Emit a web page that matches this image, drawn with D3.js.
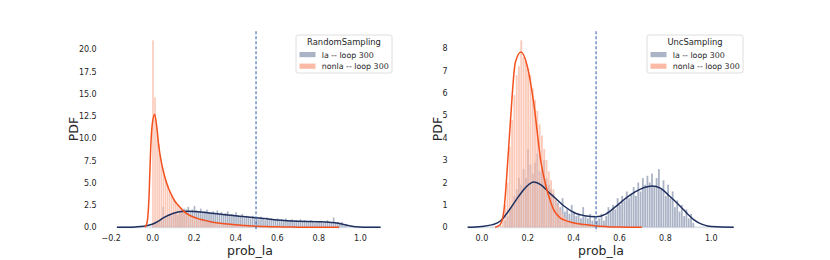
<!DOCTYPE html>
<html>
<head>
<meta charset="utf-8">
<script src="https://cdn.jsdelivr.net/npm/d3@7"></script>
<style>
  body { margin: 0; background: #fff; }
  text { font-family: "DejaVu Sans", sans-serif; fill: #262626; }
</style>
</head>
<body>
<svg id="board" width="830" height="260"></svg>
<script>
// histogram bins are 0.01 wide, each array starts at the given left edge
const binWidth = 0.01;

// RandomSampling panel
const randLaStart = 0.00;
const randLa = [
  0.3, 0.5, 0.6, 0.8, 1.0, 2.3, 1.1, 1.2, 1.4, 1.3,
  1.5, 1.6, 1.4, 1.8, 1.9, 2.1, 2.0, 2.3, 1.8, 2.0,
  2.4, 1.9, 1.7, 2.1, 1.6, 1.8, 2.0, 1.7, 1.5, 1.8,
  1.6, 1.9, 1.5, 1.7, 1.4, 1.6, 1.8, 1.3, 1.5, 1.4,
  1.7, 1.3, 1.2, 1.5, 1.1, 1.3, 1.2, 1.0, 1.3, 1.1,
  1.0, 0.9, 1.2, 1.0, 0.8, 1.1, 0.9, 1.0, 0.8, 0.9,
  1.0, 0.7, 0.9, 0.8, 1.0, 0.7, 0.8, 0.9, 0.6, 0.8,
  0.7, 0.9, 0.6, 0.8, 0.7, 0.6, 0.8, 0.7, 0.5, 0.7,
  0.6, 0.7, 0.5, 0.6, 0.8, 0.5, 0.6, 1.1, 0.5, 0.6,
  0.5, 0.6, 0.4, 0.3
];
const randNonlaStart = 0.00;
const randNonla = [
  21.0, 14.6, 11.2, 9.3, 7.6, 6.4, 5.6, 4.8, 4.1, 3.6,
  3.2, 2.9, 2.5, 2.2, 2.0, 1.8, 1.6, 1.45, 1.3, 1.15,
  1.05, 0.95, 0.85, 0.8, 0.72, 0.65, 0.6, 0.55, 0.5, 0.45,
  0.42, 0.4, 0.36, 0.33, 0.3, 0.28, 0.26, 0.24, 0.22, 0.2,
  0.19, 0.17, 0.16, 0.15, 0.14, 0.12, 0.11, 0.1, 0.09, 0.08,
  0.07, 0.06, 0.05, 0.05, 0.04, 0.03, 0.03, 0.02, 0.02, 0.01
];
const randLaKdeX = [-0.17, -0.12, -0.08, -0.04, 0, 0.03, 0.06, 0.1, 0.14, 0.18, 0.22, 0.26, 0.3, 0.35, 0.4, 0.45, 0.5, 0.55, 0.6, 0.65, 0.7, 0.75, 0.8, 0.85, 0.88, 0.92, 0.95, 0.98, 1.02, 1.1];
const randLaKdeY = [0, 0.01, 0.04, 0.12, 0.35, 0.7, 1.15, 1.55, 1.78, 1.8, 1.75, 1.65, 1.55, 1.42, 1.3, 1.18, 1.07, 0.95, 0.82, 0.74, 0.69, 0.66, 0.63, 0.58, 0.5, 0.33, 0.18, 0.06, 0.01, 0];
const randNonlaKdeX = [-0.035, -0.025, -0.015, -0.008, 0, 0.012, 0.022, 0.032, 0.045, 0.064, 0.08, 0.096, 0.11, 0.128, 0.15, 0.176, 0.2, 0.224, 0.26, 0.3, 0.35, 0.4, 0.45, 0.5, 0.55, 0.6, 0.7, 0.8, 0.9];
const randNonlaKdeY = [0, 0.5, 3.5, 8.4, 11.5, 12.7, 11.3, 9.1, 7.2, 5.4, 4.3, 3.5, 2.9, 2.4, 1.85, 1.4, 1.15, 0.95, 0.75, 0.55, 0.4, 0.28, 0.2, 0.13, 0.09, 0.05, 0.02, 0.005, 0];

// UncSampling panel
const uncLaStart = 0.10;
const uncLa = [
  0.3, 0.5, 0.8, 1.0, 1.4, 1.7, 2.2, 1.9, 2.6, 2.2,
  3.5, 2.8, 2.4, 2.9, 3.3, 2.5, 2.7, 3.0, 2.2, 1.9,
  1.7, 1.5, 1.2, 1.1, 0.9, 1.3, 0.7, 0.8, 0.6, 1.0,
  0.7, 0.5, 0.6, 0.4, 0.9, 0.5, 0.4, 0.6, 0.3, 0.5,
  0.3, 0.4, 0.6, 0.3, 0.5, 0.9, 0.7, 1.0, 0.8, 1.3,
  1.0, 1.4, 1.2, 1.6, 1.3, 1.5, 1.8, 1.4, 2.0, 1.6,
  2.2, 1.9, 2.3, 2.0, 2.4, 1.8, 2.2, 2.6, 1.7, 2.1,
  1.4, 1.9, 1.3, 1.6, 0.9, 1.2, 0.7, 1.0, 0.5, 0.8,
  0.4, 0.6, 0.2
];
const uncNonlaStart = 0.08;
const uncNonla = [
  0.1, 0.4,
  1.0, 2.0, 3.6, 4.8, 5.9, 6.8, 7.2, 8.35, 7.6, 7.4,
  7.1, 6.8, 6.2, 5.7, 5.2, 4.6, 4.1, 3.5, 3.0, 2.5,
  2.1, 1.7, 1.3, 1.0, 0.8, 0.6, 0.45, 0.35, 0.28, 0.22,
  0.18, 0.15, 0.12, 0.1, 0.08, 0.07, 0.06, 0.05, 0.04, 0.03,
  0.03, 0.02, 0.02, 0.01, 0.01
];
const uncLaKdeX = [-0.06, 0.0, 0.05, 0.083, 0.12, 0.16, 0.2, 0.228, 0.26, 0.29, 0.323, 0.36, 0.41, 0.45, 0.5, 0.54, 0.585, 0.63, 0.672, 0.71, 0.745, 0.78, 0.82, 0.869, 0.9, 0.927, 0.96, 0.986, 1.03, 1.1];
const uncLaKdeY = [0, 0.04, 0.12, 0.28, 0.75, 1.35, 1.85, 2.02, 1.9, 1.6, 1.3, 0.95, 0.63, 0.52, 0.47, 0.58, 0.92, 1.3, 1.59, 1.78, 1.85, 1.75, 1.4, 0.92, 0.58, 0.33, 0.14, 0.06, 0.02, 0];
const uncNonlaKdeX = [0.06, 0.08, 0.097, 0.11, 0.127, 0.148, 0.173, 0.2, 0.228, 0.26, 0.28, 0.3, 0.316, 0.34, 0.36, 0.4, 0.45, 0.5, 0.55, 0.6, 0.7];
const uncNonlaKdeY = [0, 0.1, 0.65, 2.2, 4.8, 7.36, 7.83, 7.2, 5.57, 2.9, 1.9, 1.2, 0.77, 0.45, 0.33, 0.2, 0.12, 0.06, 0.03, 0.01, 0];

const randXTicks = [-0.2, 0.0, 0.2, 0.4, 0.6, 0.8, 1.0];
const randYTicks = [0, 2.5, 5, 7.5, 10, 12.5, 15, 17.5, 20];
const uncXTicks = [0.0, 0.2, 0.4, 0.6, 0.8, 1.0];
const uncYTicks = [0, 1, 2, 3, 4, 5, 6, 7, 8];
const threshold = 0.5;
const legendLabels = ["la -- loop 300", "nonla -- loop 300"];

const laLine = "#1f2f5e", laBar = "#abb3c6";
const nonlaLine = "#f4511e", nonlaBar = "#fbbaa5";

const svg = d3.select("#board");
const axTop = 31.2, axBottom = 231.4, axW = 292;

function drawPanel(left, cfg) {
    const x = d3.scaleLinear().domain(cfg.xDomain).range([left, left + axW]);
    const y = d3.scaleLinear().domain(cfg.yDomain).range([axBottom, axTop]);
    const g = svg.append("g");

    // faint baseline under the kde support
    g.append("line")
        .attr("x1", x(cfg.laKdeX[0])).attr("x2", x(cfg.laKdeX[cfg.laKdeX.length - 1]))
        .attr("y1", y(0)).attr("y2", y(0))
        .attr("stroke", "#dfe3ea").attr("stroke-width", 2);

    function bars(values, start, color, opacity) {
        g.append("g").attr("opacity", opacity).selectAll("rect")
            .data(values)
            .enter().append("rect")
            .attr("x", (d, i) => x(start + i * binWidth))
            .attr("width", (d, i) => Math.max(0.5, x(start + (i + 1) * binWidth) - x(start + i * binWidth) - 0.5))
            .attr("y", d => y(d))
            .attr("height", d => y(0) - y(d))
            .attr("fill", color);
    }
    bars(cfg.la, cfg.laStart, laBar, 1);
    bars(cfg.nonla, cfg.nonlaStart, nonlaBar, 0.78);

    const line = d3.line().x(d => x(d[0])).y(d => y(d[1])).curve(d3.curveMonotoneX);
    g.append("path")
        .datum(d3.zip(cfg.laKdeX, cfg.laKdeY))
        .attr("d", line).attr("fill", "none")
        .attr("stroke", laLine).attr("stroke-width", 1.5);
    g.append("path")
        .datum(d3.zip(cfg.nonlaKdeX, cfg.nonlaKdeY))
        .attr("d", line).attr("fill", "none")
        .attr("stroke", nonlaLine).attr("stroke-width", 1.5);

    g.append("line")
        .attr("x1", x(threshold)).attr("x2", x(threshold))
        .attr("y1", axTop).attr("y2", axBottom)
        .attr("stroke", "#3f68b0").attr("stroke-width", 1.1)
        .attr("stroke-dasharray", "3,2");

    // axes, no spines or tick marks (seaborn white style)
    const xAxis = g.append("g")
        .attr("transform", `translate(0,${axBottom})`)
        .call(d3.axisBottom(x).tickValues(cfg.xTicks).tickFormat(d3.format(".1f")).tickSize(0).tickPadding(4));
    const yAxis = g.append("g")
        .attr("transform", `translate(${left},0)`)
        .call(d3.axisLeft(y).tickValues(cfg.yTicks).tickFormat(cfg.yFormat).tickSize(0).tickPadding(7.3));
    [xAxis, yAxis].forEach(a => {
        a.select(".domain").remove();
        a.selectAll("text").attr("font-size", 8).attr("fill", "#262626").attr("font-family", "DejaVu Sans");
    });

    g.append("text")
        .attr("x", left + axW / 2).attr("y", 255)
        .attr("text-anchor", "middle").attr("font-size", 12.5)
        .text("prob_la");
    g.append("text")
        .attr("transform", `translate(${cfg.ylabelX},129) rotate(-90)`)
        .attr("text-anchor", "middle").attr("font-size", 12.5)
        .text("PDF");

    // legend
    const lx = left + axW - 100, ly = 35;
    const lg = g.append("g").attr("transform", `translate(${lx},${ly})`);
    lg.append("rect")
        .attr("x", 0).attr("y", 0).attr("width", 96).attr("height", 38)
        .attr("rx", 2).attr("fill", "#fff").attr("fill-opacity", 0.8)
        .attr("stroke", "#d6d6d6").attr("stroke-width", 0.8);
    lg.append("text")
        .attr("x", 48).attr("y", 10).attr("text-anchor", "middle")
        .attr("font-size", 8.4).text(cfg.title);
    [laBar, nonlaBar].forEach((c, i) => {
        lg.append("rect")
            .attr("x", 3.5).attr("y", 17 + i * 11.6).attr("width", 16).attr("height", 5.2)
            .attr("fill", c);
        lg.append("text")
            .attr("x", 25.7).attr("y", 22.6 + i * 11.8)
            .attr("font-size", 7.9).text(legendLabels[i]);
    });
}

drawPanel(104, {
    xDomain: [-0.232, 1.174], yDomain: [-0.46, 22.03],
    la: randLa, laStart: randLaStart, nonla: randNonla, nonlaStart: randNonlaStart,
    laKdeX: randLaKdeX, laKdeY: randLaKdeY, nonlaKdeX: randNonlaKdeX, nonlaKdeY: randNonlaKdeY,
    xTicks: randXTicks, yTicks: randYTicks, yFormat: d3.format(".1f"),
    ylabelX: 78.3, title: "RandomSampling"
});
drawPanel(455, {
    xDomain: [-0.115, 1.158], yDomain: [-0.183, 8.76],
    la: uncLa, laStart: uncLaStart, nonla: uncNonla, nonlaStart: uncNonlaStart,
    laKdeX: uncLaKdeX, laKdeY: uncLaKdeY, nonlaKdeX: uncNonlaKdeX, nonlaKdeY: uncNonlaKdeY,
    xTicks: uncXTicks, yTicks: uncYTicks, yFormat: d3.format("d"),
    ylabelX: 441.7, title: "UncSampling"
});
</script>
</body>
</html>
